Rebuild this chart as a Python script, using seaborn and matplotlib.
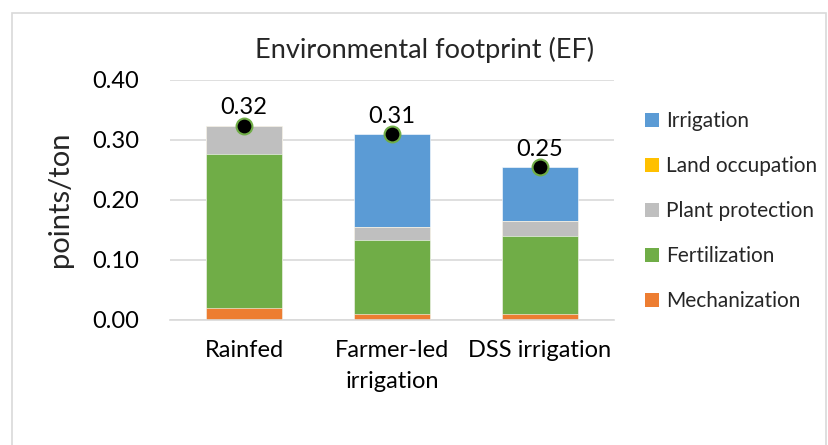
import numpy as np
import pandas as pd
import seaborn as sns
import matplotlib.pyplot as plt
from matplotlib.patches import Patch, Rectangle

# Data (points/ton)
scenarios = ["Rainfed", "Farmer-led\nirrigation", "DSS irrigation"]
mechanization = [0.019, 0.009, 0.009]
fertilization = [0.257, 0.1235, 0.131]
plant_protection = [0.046, 0.022, 0.024]
land_occupation = [0.001, 0.0005, 0.0005]
irrigation = [0.0, 0.154, 0.089]

# bottom -> top stacking order
layers = ["Mechanization", "Fertilization", "Plant protection", "Land occupation", "Irrigation"]
colors = {
    "Irrigation": "#5B9BD5",
    "Land occupation": "#FFC000",
    "Plant protection": "#BFBFBF",
    "Fertilization": "#70AD47",
    "Mechanization": "#ED7D31",
}

df = pd.DataFrame({
    "Scenario": scenarios,
    "Mechanization": mechanization,
    "Fertilization": fertilization,
    "Plant protection": plant_protection,
    "Land occupation": land_occupation,
    "Irrigation": irrigation,
})
cum = df[layers].cumsum(axis=1)
totals = cum["Irrigation"].values

sns.set_style("white")
plt.rcParams["font.family"] = ["Lato", "DejaVu Sans"]

fig = plt.figure(figsize=(8.29, 4.45), dpi=100)
ax = fig.add_axes([170 / 829, 1 - 319.5 / 445, 444 / 829, 240 / 445])

# draw cumulative bars from the top layer down so they stack visually
for name in reversed(layers):
    sns.barplot(x=df["Scenario"], y=cum[name], color=colors[name], width=0.51,
                saturation=1, order=scenarios, edgecolor="white", linewidth=0.4,
                ax=ax, zorder=2)

# total markers and labels
sns.scatterplot(x=scenarios, y=totals, s=130, color="black", edgecolor="#70AD47",
                linewidth=1.5, ax=ax, zorder=4, legend=False)
for i, t in enumerate(totals):
    ax.text(i, t + 0.012, f"{t:.2f}", ha="center", va="bottom", fontsize=17,
            color="#000000", zorder=5)

ax.set_xlim(-0.5, 2.5)
ax.set_ylim(0, 0.40)
ax.set_yticks([0, 0.1, 0.2, 0.3, 0.4])
ax.set_yticklabels([f"{v:.2f}" for v in [0, 0.1, 0.2, 0.3, 0.4]])
ax.yaxis.grid(True, color="#D9D9D9", linewidth=1.2, zorder=0)
ax.set_axisbelow(True)
for s in ["top", "right", "left"]:
    ax.spines[s].set_visible(False)
ax.spines["bottom"].set_color("#D9D9D9")
ax.spines["bottom"].set_linewidth(1.2)
ax.tick_params(axis="both", length=0, labelsize=17, colors="#000000")
ax.tick_params(axis="y", pad=22)
ax.tick_params(axis="x", pad=15)
ax.set_xlabel("")
ax.set_ylabel("points/ton", fontsize=21, labelpad=14)
for lab in ax.get_xticklabels():
    lab.set_linespacing(1.55)

fig.text(425 / 829, 1 - 50 / 445, "Environmental footprint (EF)", ha="center",
         va="center", fontsize=19.5)

handles = [Patch(facecolor=colors[n], edgecolor="none", label=n)
           for n in ["Irrigation", "Land occupation", "Plant protection", "Fertilization", "Mechanization"]]
fig.legend(handles=handles, loc="upper left", bbox_to_anchor=(637 / 829, 1 - 103 / 445),
           frameon=False, fontsize=15, handlelength=0.65, handleheight=0.65,
           handletextpad=0.35, labelspacing=1.2, borderaxespad=0)

# outer chart border
fig.patches.append(Rectangle((12 / 829, -0.01), (826 - 12) / 829, 1 - 13 / 445 + 0.01,
                             transform=fig.transFigure, fill=False, edgecolor="#D9D9D9",
                             linewidth=1.2))

fig.savefig("out.png", dpi=100)
